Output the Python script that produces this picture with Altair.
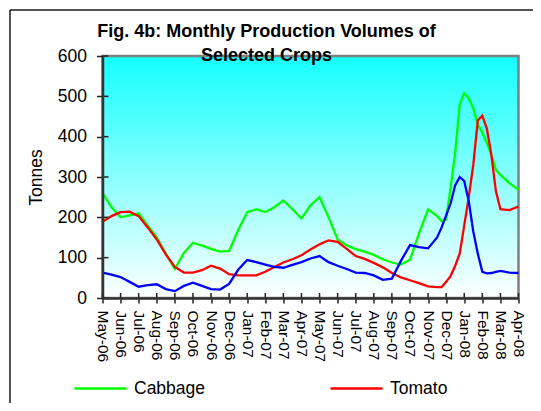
import altair as alt
import pandas as pd

# ---- data ----
months = ["May-06", "Jun-06", "Jul-06", "Aug-06", "Sep-06", "Oct-06", "Nov-06", "Dec-06",
          "Jan-07", "Feb-07", "Mar-07", "Apr-07", "May-07", "Jun-07", "Jul-07", "Aug-07",
          "Sep-07", "Oct-07", "Nov-07", "Dec-07", "Jan-08", "Feb-08", "Mar-08", "Apr-08"]

# time in months since May-06
t = [0, 0.5, 1, 1.5, 2, 2.5, 3, 3.5, 4, 4.5, 5, 5.5, 6, 6.5, 7, 7.5, 8, 8.5, 9, 9.5,
     10, 10.5, 11, 11.5, 12, 12.5, 13, 13.5, 14, 14.5, 15, 15.5, 16, 16.5, 17, 17.5, 18, 18.5,
     18.75, 19, 19.25, 19.5, 19.75, 20, 20.25, 20.5, 20.75, 21, 21.25, 21.5, 21.75,
     22, 22.5, 23]

cabbage = [260, 225, 200, 205, 210, 180, 150, 110, 72, 112, 137, 130, 122, 115, 117, 168, 213, 220, 213, 225,
           242, 220, 197, 230, 250, 200, 145, 131, 121, 115, 107, 96, 88, 83, 95, 160, 220, 203,
           190, 195, 275, 360, 480, 508, 495, 470, 430, 410, 385, 355, 318,
           305, 285, 268]

tomato = [189, 203, 213, 214, 203, 175, 145, 108, 77, 63, 63, 69, 80, 73, 59, 56, 56, 56, 65, 77,
          88, 96, 106, 120, 133, 143, 139, 122, 104, 97, 87, 76, 62, 51, 44, 37, 29, 27,
          27, 40, 55, 80, 110, 180, 250, 330, 440, 452, 420, 355, 265,
          220, 218, 227]

series3 = [63, 58, 52, 40, 28, 32, 34, 22, 17, 30, 38, 30, 22, 21, 35, 70, 94, 89, 83, 77,
           75, 82, 89, 98, 104, 89, 80, 72, 63, 62, 56, 45, 48, 92, 131, 126, 123, 150,
           175, 205, 235, 280, 300, 290, 240, 165, 110, 65, 61, 62, 65,
           67, 63, 62]

series_names = ["Cabbage", "Tomato", "Series 3"]
series_colors = ["#00FF00", "#FF0000", "#0000FF"]
y_ticks = [0, 100, 200, 300, 400, 500, 600]

rows = []
for name, vals in zip(series_names, [cabbage, tomato, series3]):
    for ti, v in zip(t, vals):
        rows.append({"t": ti, "v": v, "crop": name})
df = pd.DataFrame(rows)

FONT = "Liberation Sans"
W, H = 416, 242

x_scale = alt.Scale(domain=[0, 23], nice=False, zero=False)
y_scale = alt.Scale(domain=[0, 600], nice=False)
label_expr = "[" + ",".join("'%s'" % m for m in months) + "][datum.value]"

x_axis = alt.Axis(values=list(range(24)), labelExpr=label_expr, labelAngle=90, title=None,
                  grid=False, tickSize=5, tickWidth=1.5, tickColor="#222222",
                  labelPadding=7, labelFontSize=15.5, labelFont=FONT, labelColor="#000000",
                  labelOverlap=False, labelFlush=False, labelBound=False,
                  domainColor="#333333", domainWidth=2.5, zindex=1)
y_axis = alt.Axis(values=y_ticks, title="Tonnes", grid=False, tickSize=6, tickWidth=1.5,
                  tickColor="#222222", labelPadding=10, labelFontSize=17.5, labelFont=FONT,
                  labelColor="#000000", titleFont=FONT, titleFontSize=17.5, titleFontWeight="normal",
                  titleColor="#000000", titlePadding=12, domainColor="#333333", domainWidth=2.5,
                  zindex=1, labelFlush=False)

X = alt.X("t:Q", scale=x_scale, axis=x_axis)
Y = alt.Y("v:Q", scale=y_scale, axis=y_axis)

one = pd.DataFrame({"a": [0]})

bg = alt.Chart(one).mark_rect(
    color=alt.Gradient(gradient="linear",
                       stops=[alt.GradientStop(color="#14FFFF", offset=0),
                              alt.GradientStop(color="#FFFFFF", offset=1)],
                       x1=0, x2=0, y1=0, y2=1),
    stroke="#808080", strokeWidth=2.5
).encode(x=alt.value(0), x2=alt.value(W), y=alt.value(0), y2=alt.value(H))

lines = alt.Chart(df).mark_line(strokeWidth=2.3).encode(
    x=X, y=Y,
    color=alt.Color("crop:N",
                    scale=alt.Scale(domain=series_names, range=series_colors),
                    legend=alt.Legend(values=["Cabbage", "Tomato"], title=None, orient="none",
                                      legendX=-29.5, legendY=305, direction="horizontal",
                                      columns=2, columnPadding=119, symbolType="stroke",
                                      symbolSize=2704, symbolStrokeWidth=2.5,
                                      labelFont=FONT, labelFontSize=17.5, labelColor="#000000",
                                      labelOffset=6, padding=0)),
)

ytick_in = alt.Chart(pd.DataFrame({"v": y_ticks})).mark_rule(color="#222222", strokeWidth=1.5).encode(
    y=Y, x=alt.value(0), x2=alt.value(6))
xtick_in = alt.Chart(pd.DataFrame({"t": list(range(24))})).mark_rule(color="#222222", strokeWidth=1.5).encode(
    x=X, y=alt.value(H - 5), y2=alt.value(H))

frame_top = alt.Chart(one).mark_rule(color="#1a1a1a", strokeWidth=1.5).encode(
    x=alt.value(-92.5), x2=alt.value(W + 30), y=alt.value(-46))
frame_left = alt.Chart(one).mark_rule(color="#1a1a1a", strokeWidth=1.5).encode(
    x=alt.value(-92.5), y=alt.value(-46), y2=alt.value(H + 120))

chart = alt.layer(bg, lines, ytick_in, xtick_in, frame_top, frame_left).properties(
    width=W, height=H,
    autosize=alt.AutoSizeParams(type="none"),
    padding={"left": 94.5, "top": 48, "right": 14, "bottom": 105},
    title=alt.TitleParams(text=["Fig. 4b: Monthly Production Volumes of", "Selected Crops"],
                          font=FONT, fontSize=18, fontWeight="bold", color="#000000",
                          anchor="middle", frame="group", dx=-44, offset=-56, lineHeight=24),
).configure_view(stroke=None)

chart.save("out.html", embed_options={"renderer": "svg", "actions": False})
